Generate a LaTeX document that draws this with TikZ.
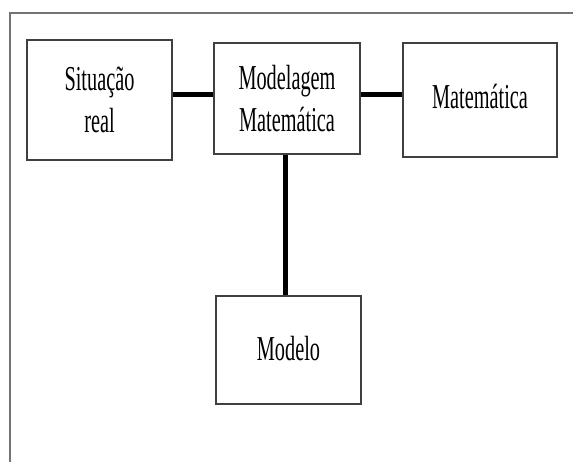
\documentclass[tikz,border=0pt]{standalone}
\usepackage{fontspec}
\setmainfont{Liberation Serif}
\newfontfamily\boxfont[FakeStretch=0.58]{Liberation Serif}
\tikzset{
  box/.style={draw=black!75, line width=1.4pt, minimum width=145pt, minimum height=110pt,
    inner sep=0pt, align=center, font=\boxfont\fontsize{35}{42}\selectfont},
  link/.style={line width=5pt, black},
}
\begin{document}
\begin{tikzpicture}[x=1pt, y=-1pt]
    \useasboundingbox (0,0) rectangle (573,462);
    % moldura
    \draw[black!55, line width=2.2pt] (10,462) -- (10,13) -- (573,13);
    % caixas
    \node[box, minimum height=120pt] (sit) at (99.5,100) {Situação\\real};
    \node[box, minimum width=146pt, minimum height=111pt] (modelagem) at (287,98.5) {Modelagem\\Matemática};
    \node[box, minimum width=154pt, minimum height=114pt] (mat) at (480,100) {\raisebox{8pt}{Matemática}};
    \node[box, minimum height=108pt] (modelo) at (288.5,350) {\raisebox{3pt}{Modelo}};
    % ligacoes
    \coordinate (mid) at (285,95);
    \draw[link] (sit.east |- mid) -- (modelagem.west |- mid);
    \draw[link] (modelagem.east |- mid) -- (mat.west |- mid);
    \draw[link] (modelagem.south -| mid) -- (modelo.north -| mid);
\end{tikzpicture}
\end{document}
